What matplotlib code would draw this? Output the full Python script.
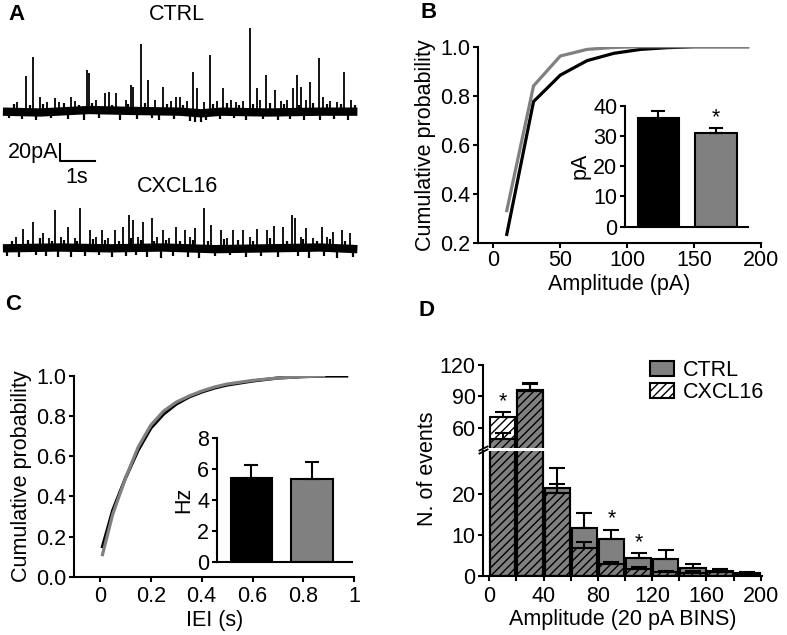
import numpy as np
import matplotlib
matplotlib.use('Agg')
import matplotlib.pyplot as plt
from matplotlib.patches import Patch

plt.rcParams['font.family'] = ['Liberation Sans', 'DejaVu Sans']
plt.rcParams['font.size'] = 15.5
plt.rcParams['axes.linewidth'] = 1.5
plt.rcParams['xtick.major.width'] = 1.5
plt.rcParams['ytick.major.width'] = 1.5
plt.rcParams['xtick.minor.width'] = 1.5
plt.rcParams['xtick.major.size'] = 3.5
plt.rcParams['ytick.major.size'] = 3.5
plt.rcParams['xtick.minor.size'] = 3.5
plt.rcParams['hatch.linewidth'] = 1.0

GRAY = '#808080'
W, H = 787, 635

# ---- panel A: events (time s, amplitude pA)
ctrl_event_t = [0.35, 0.6, 0.79, 1.0, 1.2, 1.43, 1.55, 1.9, 2.0, 2.33, 2.41, 2.6, 2.87, 2.98, 3.17,
                3.45, 3.6, 3.67, 3.9, 4.08, 4.3, 4.52, 4.75, 4.9, 5.0, 5.2, 5.36, 5.5, 5.68, 5.86,
                6.05, 6.24, 6.45, 6.6, 6.8, 7.0, 7.19, 7.3, 7.46, 7.71, 7.9, 8.05, 8.22, 8.33, 8.46,
                8.6, 8.71, 8.97, 9.1, 9.3, 9.5, 9.69, 9.9]
ctrl_event_amp = [12, 43, 66, 18, 12, 16, 12, 18, 13, 50, 46, 14, 22, 24, 22,
                  14, 32, 30, 81, 38, 14, 30, 13, 18, 18, 13, 48, 28, 12, 68,
                  13, 28, 14, 12, 13, 100, 28, 14, 44, 26, 13, 14, 28, 44, 30,
                  14, 36, 64, 18, 13, 12, 48, 14]
# small up/down noise deflections along the baseline
ctrl_noise_t = [0.1, 0.25, 0.48, 0.7, 0.9, 1.1, 1.32, 1.68, 1.8, 2.12, 2.25, 2.5, 2.7, 3.05, 3.3,
                3.52, 3.78, 4.0, 4.2, 4.4, 4.62, 4.82, 5.1, 5.28, 5.44, 5.6, 5.75, 5.95, 6.15, 6.35,
                6.55, 6.7, 6.9, 7.1, 7.38, 7.58, 7.8, 7.98, 8.15, 8.4, 8.55, 8.8, 9.0, 9.2, 9.4,
                9.6, 9.8, 10.0]
ctrl_noise_amp = [-8, 9, -9, 8, -10, 9, -8, 10, -9, 8, -10, 10, -8, 8, -10,
                  9, -9, 10, -8, -10, 9, -9, 8, -11, -12, -12, -10, 9, -9, 10,
                  -8, 8, -10, 9, -9, 10, -10, 9, -9, 8, -10, 10, -10, 9, -9,
                  9, -10, 8]
cxcl_event_t = [0.3, 0.52, 0.81, 1.1, 1.25, 1.43, 1.6, 1.81, 2.0, 2.14, 2.43, 2.6, 2.76, 2.95, 3.14,
                3.38, 3.55, 3.67, 3.8, 3.95, 4.19, 4.35, 4.52, 4.7, 4.9, 5.14, 5.3, 5.43, 5.69, 5.9,
                6.16, 6.35, 6.52, 6.81, 7.0, 7.21, 7.48, 7.69, 7.95, 8.19, 8.29, 8.45, 8.6, 8.8,
                9.05, 9.2, 9.38, 9.62, 9.86]
cxcl_event_amp = [14, 23, 32, 18, 13, 46, 14, 26, 13, 49, 22, 14, 22, 13, 22,
                  26, 40, 34, 14, 32, 36, 14, 22, 13, 26, 22, 14, 24, 49, 28,
                  22, 13, 22, 22, 14, 23, 22, 27, 26, 40, 36, 14, 24, 13,
                  26, 14, 20, 22, 18]
cxcl_noise_t = [0.05, 0.2, 0.4, 0.65, 0.9, 1.0, 1.18, 1.35, 1.52, 1.7, 1.9, 2.07, 2.3, 2.52, 2.68,
                2.86, 3.05, 3.25, 3.46, 3.6, 3.74, 3.88, 4.05, 4.27, 4.45, 4.6, 4.8, 5.0, 5.22, 5.36,
                5.55, 5.8, 6.0, 6.25, 6.44, 6.66, 6.9, 7.1, 7.32, 7.56, 7.8, 8.05, 8.38, 8.52, 8.7,
                8.92, 9.12, 9.3, 9.5, 9.72, 9.95]
cxcl_noise_amp = [-9, 9, -10, 10, -8, 12, -9, 9, -10, 10, -10, 9, -9, 11, -8,
                  10, -10, 9, -9, 12, -8, 10, -10, 9, -11, 10, -9, 9, -10, 10,
                  -11, 9, -9, 11, -8, 10, -10, 9, -9, 12, -10, 9, -9, 11, -11,
                  9, -9, 11, -11, 9, -10]
ctrl_base_t = [-0.06, 1.0, 2.4, 3.5, 5.0, 5.6, 6.2, 7.5, 9.0, 10.07]
ctrl_base_pA = [0, -1, 2, 1, 0, -2, 0, -1, 0, 0]
cxcl_base_t = [-0.06, 1.5, 3.0, 4.5, 6.0, 7.5, 9.0, 10.07]
cxcl_base_pA = [0, 1, 0, 1, -1, 0, 1, -1]

# ---- panel B: amplitude cumulative distributions + mean amplitude inset
amp_pA = [10, 30, 50, 70, 90, 110, 130, 150, 170, 190]
amp_cdf_ctrl = [0.234, 0.776, 0.884, 0.943, 0.973, 0.989, 0.996, 1.0, 1.0, 1.0]
amp_cdf_cxcl = [0.331, 0.84, 0.962, 0.989, 0.997, 1.0, 1.0, 1.0, 1.0, 1.0]
amp_mean = [36.0, 31.0]
amp_sem = [2.4, 1.5]

# ---- panel C: inter-event interval cumulative distributions + frequency inset
iei_ctrl_s = [0.01, 0.05, 0.1, 0.15, 0.2, 0.25, 0.3, 0.35, 0.4, 0.45, 0.5, 0.6, 0.7, 0.8, 0.9, 0.97]
iei_cdf_ctrl = [0.15, 0.33, 0.49, 0.63, 0.74, 0.81, 0.86, 0.895, 0.92, 0.94, 0.955, 0.975, 0.99, 0.997, 1.0, 1.0]
iei_cxcl_s = [0.01, 0.05, 0.1, 0.15, 0.2, 0.25, 0.3, 0.35, 0.4, 0.45, 0.5, 0.6, 0.7, 0.8, 0.88]
iei_cdf_cxcl = [0.11, 0.31, 0.49, 0.645, 0.755, 0.825, 0.87, 0.90, 0.925, 0.945, 0.96, 0.978, 0.99, 0.997, 1.0]
freq_mean = [5.45, 5.39]
freq_sem = [0.83, 1.06]

# ---- panel D: events per 20 pA amplitude bin
bin_pA = [10, 30, 50, 70, 90, 110, 130, 150, 170, 190]
ctrl_counts = [48.9, 96.5, 21.3, 11.6, 9.0, 4.3, 4.06, 1.95, 1.3, 0.8]
ctrl_err = [6.0, 6.0, 5.1, 3.7, 2.2, 1.2, 2.2, 0.95, 0.5, 0.15]
cxcl_counts = [70.5, 95.5, 20.1, 6.7, 2.8, 1.6, 0.9, 0.8, 0.9, 0.6]
cxcl_err = [4.8, 6.0, 2.2, 1.6, 0.5, 0.7, 0.2, 0.3, 0.4, 0.2]
signif_bins = [0, 4, 5]
star_heights = [85, 13.9, 8.0]


def px_rect(x0, y0, x1, y1):
    return [x0 / W, 1 - y1 / H, (x1 - x0) / W, (y1 - y0) / H]


def fig_txt(x, y, s, **kw):
    fig.text(x / W, 1 - y / H, s, **kw)


def clean(ax):
    ax.spines['top'].set_visible(False)
    ax.spines['right'].set_visible(False)


def draw_trace(ax, base_t, base_pA, ev_t, ev_amp, nz_t, nz_amp, off):
    ax.plot(base_t, np.array(base_pA) + off, color='black', lw=6, solid_capstyle='butt')
    ax.vlines(nz_t, off, np.array(nz_amp) + off, color='black', lw=1.6)
    ax.vlines(ev_t, off, np.array(ev_amp) + off, color='black', lw=1.3)


fig = plt.figure(figsize=(W / 100, H / 100), dpi=100)

# ================= A
axA = fig.add_axes(px_rect(0, 20, 370, 290))
axA.set_xlim(-0.143, 10.43)
axA.set_ylim(-50, 274)
axA.axis('off')
draw_trace(axA, ctrl_base_t, ctrl_base_pA, ctrl_event_t, ctrl_event_amp, ctrl_noise_t, ctrl_noise_amp, 164)
draw_trace(axA, cxcl_base_t, cxcl_base_pA, cxcl_event_t, cxcl_event_amp, cxcl_noise_t, cxcl_noise_amp, 0)
# scale bar 20 pA / 1 s
axA.plot([1.571, 1.571, 2.571], [125, 105, 105], color='black', lw=1.5)
axA.text(1.53, 115, '20pA', ha='right', va='center')
axA.text(2.06, 85, '1s', ha='center', va='center')
fig_txt(176.7, 15, 'CTRL', ha='center', va='center')
fig_txt(177.5, 186.7, 'CXCL16', ha='center', va='center')

# ================= B
axB = fig.add_axes(px_rect(478, 46.7, 761, 242.7))
axB.plot(amp_pA, amp_cdf_ctrl, color='black', lw=2.3)
axB.plot(amp_pA, amp_cdf_cxcl, color=GRAY, lw=2.3)
axB.set_xlim(-11.5, 200)
axB.set_ylim(0.2, 1.0)
axB.set_xticks([0, 50, 100, 150, 200])
axB.set_yticks([0.2, 0.4, 0.6, 0.8, 1.0])
axB.set_yticklabels(['0.2', '0.4', '0.6', '0.8', '1.0'])
axB.tick_params(axis='x', pad=2)
axB.tick_params(axis='y', pad=2)
axB.set_xlabel('Amplitude (pA)', labelpad=2)
axB.set_ylabel('Cumulative probability', labelpad=3)
clean(axB)

axBi = fig.add_axes(px_rect(625, 105.7, 748, 226.7))
axBi.bar([0, 1], amp_mean, width=0.72, color=['black', GRAY], edgecolor='black', lw=1.5)
axBi.errorbar([0, 1], amp_mean, yerr=[[0, 0], amp_sem], fmt='none', ecolor='black',
              elinewidth=1.5, capsize=5, capthick=1.5)
axBi.text(1, 35.9, '*', ha='center', va='center')
axBi.set_xlim(-0.58, 1.56)
axBi.set_ylim(0, 40)
axBi.set_yticks([0, 10, 20, 30, 40])
axBi.set_xticks([])
axBi.tick_params(axis='y', pad=2)
axBi.set_ylabel('pA', labelpad=2)
clean(axBi)

# ================= C
axC = fig.add_axes(px_rect(74, 376, 354.3, 576.7))
axC.plot(iei_ctrl_s, iei_cdf_ctrl, color='black', lw=2.3)
axC.plot(iei_cxcl_s, iei_cdf_cxcl, color=GRAY, lw=2.3)
axC.set_xlim(-0.102, 1.0)
axC.set_ylim(0, 1.0)
axC.set_xticks([0, 0.2, 0.4, 0.6, 0.8, 1.0])
axC.set_xticklabels(['0', '0.2', '0.4', '0.6', '0.8', '1'])
axC.set_yticks([0, 0.2, 0.4, 0.6, 0.8, 1.0])
axC.set_yticklabels(['0.0', '0.2', '0.4', '0.6', '0.8', '1.0'])
axC.tick_params(axis='x', pad=3)
axC.tick_params(axis='y', pad=2)
axC.set_xlabel('IEI (s)', labelpad=2)
axC.set_ylabel('Cumulative probability', labelpad=3)
clean(axC)

axCi = fig.add_axes(px_rect(216.7, 438.3, 351.7, 561.7))
axCi.bar([0, 1], freq_mean, width=0.675, color=['black', GRAY], edgecolor='black', lw=1.5)
axCi.errorbar([0, 1], freq_mean, yerr=[[0, 0], freq_sem], fmt='none', ecolor='black',
              elinewidth=1.5, capsize=5, capthick=1.5)
axCi.set_xlim(-0.567, 1.653)
axCi.set_ylim(0, 8)
axCi.set_yticks([0, 2, 4, 6, 8])
axCi.set_xticks([])
axCi.tick_params(axis='y', pad=2)
axCi.set_ylabel('Hz', labelpad=2)
clean(axCi)

# ================= D (broken y axis)
axDl = fig.add_axes(px_rect(483.3, 450.5, 761.7, 576))
axDu = fig.add_axes(px_rect(483.3, 365, 761.7, 448))
for ax in (axDl, axDu):
    ax.bar(bin_pA, ctrl_counts, width=18.6, color=GRAY, edgecolor='black', lw=1.5, zorder=2)
    ax.errorbar(bin_pA, ctrl_counts, yerr=[np.zeros(len(bin_pA)), ctrl_err], fmt='none',
                ecolor='black', elinewidth=1.5, capsize=6, capthick=1.5, zorder=2.5)
    ax.bar(bin_pA, cxcl_counts, width=18.6, facecolor='none', edgecolor='black', hatch='////',
           lw=1.5, zorder=3)
    ax.errorbar(bin_pA, cxcl_counts, yerr=[np.zeros(len(bin_pA)), cxcl_err], fmt='none',
                ecolor='black', elinewidth=1.5, capsize=6, capthick=1.5, zorder=3.5)
    ax.set_xlim(-4.4, 200.7)
    clean(ax)
axDl.set_ylim(0, 30.55)
axDu.set_ylim(40.5, 120)
axDl.set_yticks([0, 10, 20])
axDu.set_yticks([60, 90, 120])
axDl.set_xticks([0, 40, 80, 120, 160, 200])
axDl.set_xticks([20, 60, 100, 140, 180], minor=True)
axDl.tick_params(axis='x', pad=3.5)
axDl.tick_params(axis='y', pad=2)
axDu.tick_params(axis='y', pad=2)
axDu.spines['bottom'].set_visible(False)
axDu.set_xticks([])
for i, h in zip(signif_bins, star_heights):
    ax = axDu if h > 40 else axDl
    ax.text(bin_pA[i], h, '*', ha='center', va='center')
axDl.set_xlabel('Amplitude (20 pA BINS)', labelpad=2)
fig_txt(427.5, 469, 'N. of events', rotation=90, ha='center', va='center')
brk = dict(marker=[(-1, -0.5), (1, 0.5)], markersize=7, linestyle='none', color='black',
           mec='black', mew=1.3, clip_on=False)
axDl.plot([0], [1], transform=axDl.transAxes, **brk)
axDu.plot([0], [0], transform=axDu.transAxes, **brk)
axDu.legend(handles=[Patch(facecolor=GRAY, edgecolor='black', lw=1.5, label='CTRL'),
                     Patch(facecolor='white', edgecolor='black', hatch='////', lw=1.5, label='CXCL16')],
            loc='upper left', bbox_to_anchor=((650 - 483.3) / 278.4, 1.06), frameon=False,
            handlelength=1.1, handleheight=0.65, handletextpad=0.45, labelspacing=0.05,
            borderpad=0, borderaxespad=0)

# panel letters
fig_txt(8, 15, 'A', fontweight='bold', fontsize=16, va='center')
fig_txt(421, 12.5, 'B', fontweight='bold', fontsize=16, va='center')
fig_txt(5, 304, 'C', fontweight='bold', fontsize=16, va='center')
fig_txt(419, 310.5, 'D', fontweight='bold', fontsize=16, va='center')

fig.savefig('out.png', dpi=100)
